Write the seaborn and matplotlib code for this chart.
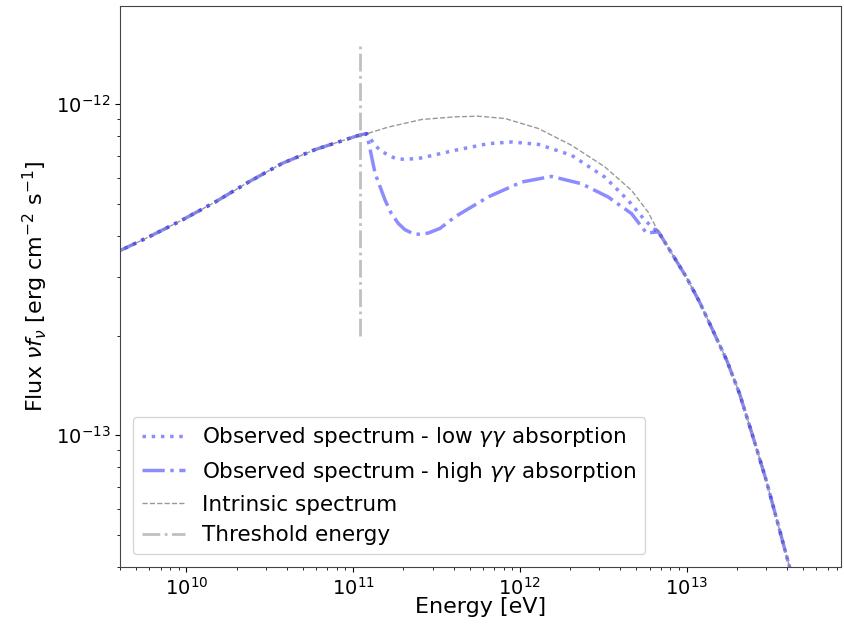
import numpy as np
import matplotlib
matplotlib.use("Agg")
import matplotlib.pyplot as plt
import seaborn as sns

# ---- data (log10 values) ----
# shared part below the threshold (all curves coincide)
logE_below = [9.58, 9.615, 9.774, 9.974, 10.174, 10.373, 10.573, 10.772, 10.972, 11.046, 11.082]
logF_below = [-12.448, -12.439, -12.401, -12.350, -12.295, -12.235, -12.179, -12.137, -12.104, -12.092, -12.089]

# intrinsic spectrum between threshold and the end of absorption
logE_int_mid = [11.211, 11.411, 11.611, 11.750, 11.910, 12.110, 12.310, 12.509, 12.669, 12.768]
logF_int_mid = [-12.069, -12.046, -12.038, -12.036, -12.043, -12.073, -12.124, -12.189, -12.260, -12.325]

# shared high-energy part (all curves coincide)
logE_above = [12.828, 12.998, 13.078, 13.157, 13.240, 13.317, 13.395, 13.477, 13.545, 13.617, 13.68]
logF_above = [-12.383, -12.522, -12.598, -12.683, -12.773, -12.874, -13.000, -13.136, -13.263, -13.398, -13.524]

# observed, low gamma-gamma absorption
logE_lowabs = [11.132, 11.162, 11.211, 11.251, 11.311, 11.411, 11.611, 11.810, 11.950, 12.110, 12.310, 12.509, 12.649, 12.749, 12.819]
logF_lowabs = [-12.124, -12.139, -12.154, -12.163, -12.167, -12.162, -12.139, -12.119, -12.114, -12.121, -12.154, -12.220, -12.290, -12.350, -12.383]

# observed, high gamma-gamma absorption
logE_highabs = [11.132, 11.192, 11.228, 11.271, 11.311, 11.361, 11.401, 11.451, 11.521, 11.611, 11.810, 12.010, 12.190, 12.369, 12.529, 12.669, 12.759, 12.819]
logF_highabs = [-12.209, -12.290, -12.329, -12.360, -12.379, -12.391, -12.393, -12.389, -12.375, -12.340, -12.280, -12.235, -12.218, -12.240, -12.280, -12.330, -12.389, -12.386]

# threshold energy marker
E_threshold = 1.1e11
F_threshold_range = [2.0e-13, 1.5e-12]

labels = ["Observed spectrum - low $\\gamma\\gamma$ absorption",
          "Observed spectrum - high $\\gamma\\gamma$ absorption",
          "Intrinsic spectrum",
          "Threshold energy"]

def build(*parts):
    e, f = [], []
    for pe, pf in parts:
        e += list(pe)
        f += list(pf)
    return 10 ** np.array(e), 10 ** np.array(f)

E_low, F_low = build((logE_below, logF_below), (logE_lowabs, logF_lowabs), (logE_above, logF_above))
E_high, F_high = build((logE_below, logF_below), (logE_highabs, logF_highabs), (logE_above, logF_above))
E_int, F_int = build((logE_below, logF_below), (logE_int_mid, logF_int_mid), (logE_above, logF_above))

sns.set_style("ticks")
plt.rcParams['font.family'] = ['DejaVu Sans']
plt.rcParams['text.color'] = 'black'
plt.rcParams['axes.labelcolor'] = 'black'
plt.rcParams['xtick.color'] = 'black'
plt.rcParams['ytick.color'] = 'black'

fig = plt.figure(figsize=(8.45, 6.31), dpi=100)
ax = fig.add_axes([0.142, 0.1014, 0.853, 0.889])

sns.lineplot(x=E_low, y=F_low, ax=ax, sort=False, estimator=None, color="blue",
             alpha=0.45, linewidth=2.5, linestyle=":", label=labels[0])
sns.lineplot(x=E_high, y=F_high, ax=ax, sort=False, estimator=None, color="blue",
             alpha=0.45, linewidth=2.5, linestyle="-.", label=labels[1])
sns.lineplot(x=E_int, y=F_int, ax=ax, sort=False, estimator=None, color="gray",
             alpha=0.8, linewidth=1.0, linestyle="--", label=labels[2])
sns.lineplot(x=[E_threshold, E_threshold], y=F_threshold_range, ax=ax, sort=False,
             estimator=None, color="gray", alpha=0.5, linewidth=2.0, linestyle="-.",
             label=labels[3])

ax.set_xscale("log")
ax.set_yscale("log")
ax.set_xlim(4.0e9, 8.4e13)
ax.set_ylim(4.0e-14, 1.98e-12)

ax.set_xlabel("Energy [eV]", fontsize=16, labelpad=-1)
ax.set_ylabel("Flux $\\nu f_\\nu$ [erg cm$^{-2}$ s$^{-1}$]", fontsize=16)
ax.tick_params(axis="both", which="major", labelsize=14)
for s in ax.spines.values():
    s.set_color("#444444")

ax.legend(loc="lower left", fontsize=15.5, frameon=True, handlelength=2.0,
          borderaxespad=0.6)

fig.savefig("out.png", dpi=100)
